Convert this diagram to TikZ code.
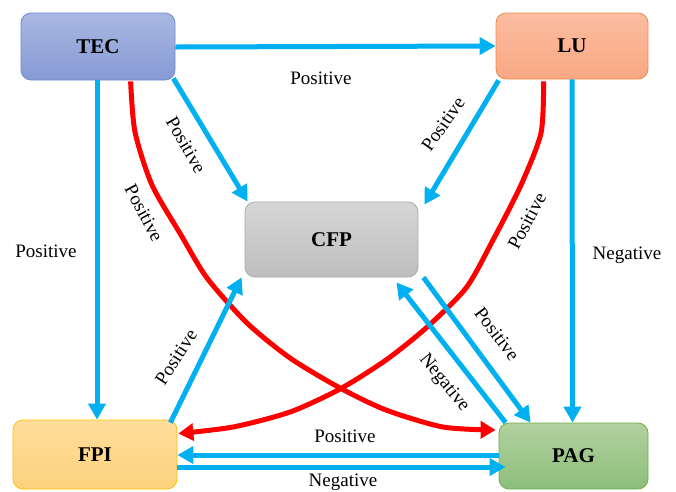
\documentclass[tikz,border=0pt]{standalone}
\usepackage{fontspec}
\setmainfont{Liberation Serif}
\usetikzlibrary{arrows.meta,calc}
\definecolor{arrblue}{HTML}{00B0F0}
\definecolor{arrred}{HTML}{FF0000}
\definecolor{tecT}{RGB}{169,184,226}\definecolor{tecB}{RGB}{134,153,211}\definecolor{tecD}{RGB}{108,139,208}
\definecolor{luT}{RGB}{251,189,161}\definecolor{luB}{RGB}{249,168,131}\definecolor{luD}{RGB}{240,138,75}
\definecolor{cfpT}{RGB}{214,214,214}\definecolor{cfpB}{RGB}{190,190,190}\definecolor{cfpD}{RGB}{170,170,170}
\definecolor{fpiT}{RGB}{255,221,155}\definecolor{fpiB}{RGB}{253,210,125}\definecolor{fpiD}{RGB}{255,192,0}
\definecolor{pagT}{RGB}{178,209,160}\definecolor{pagB}{RGB}{140,190,122}\definecolor{pagD}{RGB}{112,173,71}
\tikzset{
  box/.style={draw, rounded corners=10pt, line width=0.8pt, font=\fontsize{21}{24}\selectfont\bfseries, inner sep=0pt},
  bluearr/.style={draw=arrblue, line width=5pt, -{Triangle[length=16pt,width=17pt]}},
  redarr/.style={draw=arrred, line width=5pt, -{Triangle[length=15pt,width=17pt]}},
  lbl/.style={font=\fontsize{19}{22}\selectfont, inner sep=1pt}
}
\begin{document}
\begin{tikzpicture}[x=1pt,y=-1pt]
\useasboundingbox (0,0) rectangle (676,491);
% nodes
\node[box, minimum width=154pt, minimum height=67pt, top color=tecT, bottom color=tecB, draw=tecD] (TEC) at (98,46.5) {TEC};
\node[box, minimum width=152pt, minimum height=66pt, top color=luT, bottom color=luB, draw=luD] (LU) at (572,46) {LU};
\node[box, minimum width=173pt, minimum height=75pt, top color=cfpT, bottom color=cfpB, draw=cfpD] (CFP) at (331.5,239.5) {CFP};
\node[box, minimum width=164pt, minimum height=69pt, top color=fpiT, bottom color=fpiB, draw=fpiD] (FPI) at (95,454.5) {FPI};
\node[box, minimum width=149pt, minimum height=66pt, top color=pagT, bottom color=pagB, draw=pagD] (PAG) at (573.5,456) {PAG};

% red curves
\coordinate (rA0) at ($(TEC.south west)+(110,1)$);
\coordinate (rA1) at ($(PAG.west)+(-3,-26)$);
\draw[redarr] plot[smooth, tension=0.45] coordinates {(rA0) (135,132) (152,185) (181,235) (207,278) (247,323) (290,358) (340,388) (386,410) (443,427) (rA1)};
\coordinate (rB0) at ($(LU.south west)+(48,2)$);
\coordinate (rB1) at ($(FPI.east)+(1,-21)$);
\draw[redarr] plot[smooth, tension=0.45] coordinates {(rB0) (541,133) (521,185) (493,240) (466,288) (426,328) (386,360) (340,389) (290,412) (233,427) (rB1)};

% blue arrows
\draw[bluearr] ($(TEC.east)+(0,0.5)$) -- (LU.west);
\draw[bluearr] ($(TEC.south)+(-1,0)$) -- ($(FPI.north)+(2,0)$);
\draw[bluearr] ($(TEC.south east)+(-2,-2)$) -- ($(CFP.north west)+(3,0)$);
\draw[bluearr] ($(LU.south west)+(3,1)$) -- ($(CFP.north east)+(6,3)$);
\draw[bluearr] (LU.south) -- ($(PAG.north)+(-1,0)$);
\draw[bluearr] ($(FPI.north east)+(-7,3)$) -- ($(CFP.south west)+(-3,0)$);
\draw[bluearr] ($(CFP.south east)+(5,0)$) -- ($(PAG.north west)+(32,0)$);
\draw[bluearr] ($(PAG.north west)+(7,0)$) -- ($(CFP.south east)+(-22,5)$);
\draw[bluearr] ($(PAG.west)+(0,-1)$) -- ($(FPI.east)+(0,0.5)$);
\draw[bluearr] ($(FPI.east)+(0,12.5)$) -- ($(PAG.west)+(7,11)$);

% labels
\node[lbl] (l1) at (321,78) {Positive};
\node[lbl] (l2) at (46,251) {Positive};
\node[lbl] (l3) at (627,255) {Negative};
\node[lbl, rotate=-60] (l4) at (186,145) {Positive};
\node[lbl, rotate=-62] (l5) at (144,213) {Positive};
\node[lbl, rotate=55] (l6) at (443,124) {Positive};
\node[lbl, rotate=62] (l7) at (527,221) {Positive};
\node[lbl, rotate=57] (l8) at (176,357) {Positive};
\node[lbl, rotate=-53] (l9) at (497,334) {Positive};
\node[lbl, rotate=-51] (l10) at (444,383) {Negative};
\node[lbl] (l11) at (345,436) {Positive};
\node[lbl] (l12) at (343,482) {Negative};
\end{tikzpicture}
\end{document}
